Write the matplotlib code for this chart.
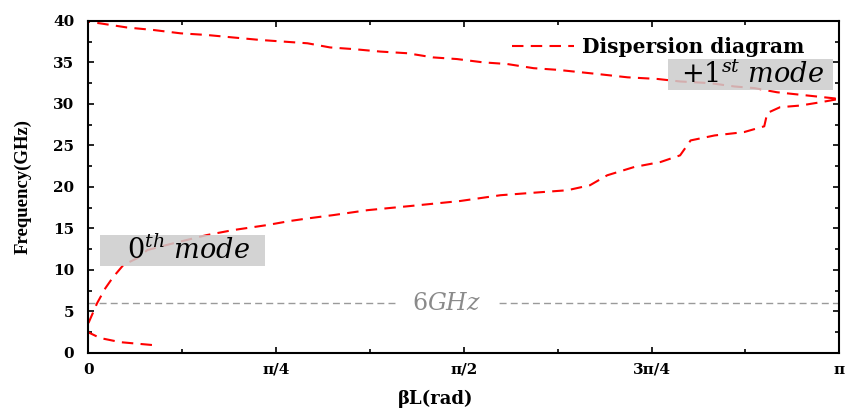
import numpy as np
import matplotlib.pyplot as plt
from matplotlib.patches import Rectangle
from matplotlib.ticker import AutoMinorLocator

# phase per unit cell (in units of pi) and frequency (GHz)
beta_over_pi = [0.085, 0.043, 0.016, 0.0, 0.0, 0.012, 0.023, 0.033, 0.047, 0.065, 0.079,
                0.113, 0.158, 0.193, 0.238, 0.269, 0.292, 0.326, 0.372, 0.429, 0.495,
                0.549, 0.593, 0.638, 0.668, 0.691, 0.727, 0.762, 0.788, 0.802, 0.834,
                0.873, 0.900, 0.904, 0.921, 0.948, 0.975, 1.0,
                0.948, 0.917, 0.887, 0.860, 0.828, 0.788, 0.758, 0.718, 0.678, 0.625,
                0.593, 0.558, 0.526, 0.491, 0.459, 0.425, 0.389, 0.353, 0.322, 0.292,
                0.229, 0.193, 0.158, 0.123, 0.087, 0.052, 0.016, 0.0]
freq_ghz = [0.96, 1.3, 1.8, 2.5, 3.5, 6.0, 7.8, 9.1, 10.6, 11.4, 12.4,
            13.2, 14.2, 14.8, 15.4, 15.9, 16.2, 16.6, 17.2, 17.7, 18.3,
            19.0, 19.3, 19.6, 20.2, 21.4, 22.4, 23.0, 23.8, 25.6, 26.2,
            26.6, 27.3, 28.9, 29.6, 29.8, 30.2, 30.6,
            31.1, 31.4, 31.9, 32.1, 32.5, 32.7, 33.0, 33.2, 33.6, 34.1,
            34.3, 34.8, 35.0, 35.4, 35.6, 36.1, 36.3, 36.6, 36.8, 37.3,
            37.7, 38.0, 38.3, 38.5, 38.9, 39.2, 39.7, 39.9]

f_ref = 6.0
xtick_vals = [0, np.pi / 4, np.pi / 2, 3 * np.pi / 4, np.pi]
xtick_labels = ['0', 'π/4', 'π/2', '3π/4', 'π']

plt.rcParams['font.family'] = 'DejaVu Serif'
plt.rcParams['mathtext.fontset'] = 'dejavuserif'

fig = plt.figure(figsize=(8.47, 4.09), dpi=100)
ax = fig.add_axes([0.104, 0.137, 0.887, 0.812])

beta = np.array(beta_over_pi) * np.pi
ax.plot(beta, freq_ghz, color='red', lw=1.5, ls=(0, (5.5, 3.5)),
        label='Dispersion diagram', zorder=2)

ax.axhline(f_ref, color='#9a9a9a', lw=1.0, ls=(0, (5, 3)), zorder=1)
ax.text(0.4775 * np.pi, f_ref, r'$6GHz$', color='#8a8a8a', fontsize=17,
        ha='center', va='center', zorder=3,
        bbox=dict(facecolor='white', edgecolor='none', boxstyle='square,pad=0.6'))

# shaded label boxes for the two modes (axes fraction)
for (x0, y0, w, h) in [(0.016, 0.262, 0.220, 0.093), (0.772, 0.792, 0.220, 0.093)]:
    ax.add_patch(Rectangle((x0, y0), w, h, transform=ax.transAxes,
                           facecolor='#cccccc', edgecolor='none', alpha=0.85, zorder=3))
ax.text(0.133, 0.3085, r'$0^{th}\ mode$', transform=ax.transAxes, fontsize=19.5,
        ha='center', va='center', zorder=4)
ax.text(0.884, 0.8385, r'$+1^{st}\ mode$', transform=ax.transAxes, fontsize=19.5,
        ha='center', va='center', zorder=4)

ax.set_xlim(0, np.pi)
ax.set_ylim(0, 40)
ax.set_xticks(xtick_vals)
ax.set_xticklabels(xtick_labels)
ax.set_yticks(np.arange(0, 41, 5))
ax.xaxis.set_minor_locator(AutoMinorLocator(2))
ax.yaxis.set_minor_locator(AutoMinorLocator(2))
ax.tick_params(which='both', direction='in', top=True, right=True, labelsize=11, width=1.2)
ax.tick_params(which='major', length=4.5)
ax.tick_params(axis='x', which='major', pad=7)
ax.tick_params(axis='y', which='major', pad=10)
ax.tick_params(which='minor', length=3)
for lbl in ax.get_xticklabels() + ax.get_yticklabels():
    lbl.set_fontweight('bold')
for s in ax.spines.values():
    s.set_linewidth(1.5)

ax.set_xlabel('βL(rad)', fontsize=13, fontweight='bold', va='center')
ax.xaxis.set_label_coords(0.463, -0.138)
ax.set_ylabel('Frequency(GHz)', fontsize=13.5, fontweight='bold',
              fontfamily='Liberation Serif', va='center')
ax.yaxis.set_label_coords(-0.086, 0.5)

leg = ax.legend(loc='upper right', bbox_to_anchor=(0.978, 1.005), frameon=False,
                prop={'weight': 'bold', 'size': 14.5}, handlelength=3.1,
                handletextpad=0.4)

fig.savefig('out.png', dpi=100)
